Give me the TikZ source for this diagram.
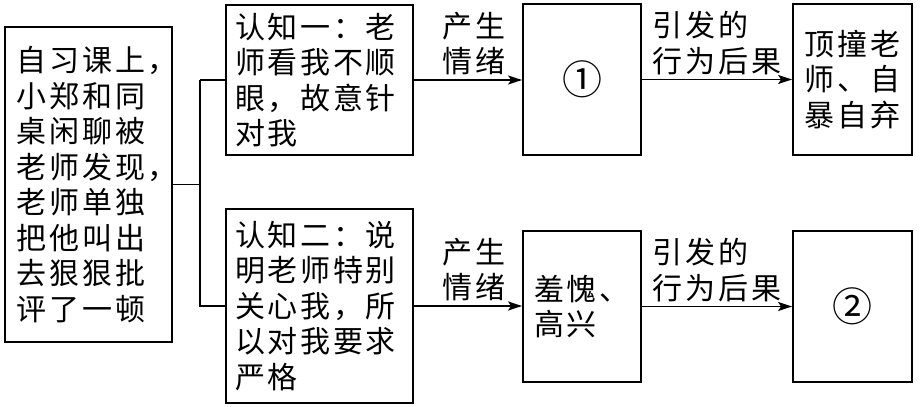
\documentclass[tikz,border=0pt]{standalone}
\usepackage{fontspec}
\setmainfont{Noto Sans CJK SC}[LetterSpace=9]
\usetikzlibrary{arrows.meta}

\begin{document}
\begin{tikzpicture}[x=0.5pt, y=-0.5pt]
  % Parameters
  \def\pxu{0.5pt}
  \def\lw{0.9pt}

  % Styles
  \tikzset{
    txt/.style={font=\fontsize{15pt}{17.75pt}\selectfont},
    box/.style={txt, draw, line width=\lw, align=left, inner ysep=0pt},
    arr/.style={line width=\lw, -{Stealth[length=7pt, width=4.5pt, inset=1.5pt]}},
    lbl/.style={txt, align=left, inner sep=2pt}
  }

  \useasboundingbox (0,0) rectangle (922,407);

  % Event
  \node[box, inner xsep=12*\pxu, text width=143*\pxu, minimum height=315*\pxu]
    (event) at (88.5,184.5)
    {自习课上，\\小郑和同\\桌闲聊被\\老师发现，\\老师单独\\把他叫出\\去狠狠批\\评了一顿};

  % Two cognitions
  \node[box, inner xsep=9*\pxu, text width=169*\pxu, minimum height=150*\pxu]
    (cogA) at (319.5,80)
    {认知一：老\\师看我不顺\\眼，故意针\\对我};
  \node[box, inner xsep=9*\pxu, text width=169*\pxu, minimum height=194*\pxu]
    (cogB) at (319.5,306)
    {认知二：说\\明老师特别\\关心我，所\\以对我要求\\严格};

  % Emotions
  \node[box, minimum width=118*\pxu, minimum height=151*\pxu, font=\fontsize{20pt}{22pt}\selectfont]
    (emoA) at (582,79.5) {①};
  \node[box, minimum width=118*\pxu, minimum height=151*\pxu]
    (emoB) at (582,306.5) {羞愧、\\高兴};

  % Behaviour
  \node[box, minimum width=119*\pxu, minimum height=151*\pxu]
    (actA) at (852.5,79.5) {顶撞老\\师、自\\暴自弃};
  \node[box, minimum width=119*\pxu, minimum height=151*\pxu, font=\fontsize{20pt}{22pt}\selectfont]
    (actB) at (852.5,306.5) {②};

  % Fork from the event
  \coordinate (fork) at (200,184.5);
  \draw[line width=\lw] (event.east) -- (fork);
  \draw[line width=\lw] (fork |- cogA.west) -- (cogA.west);
  \draw[line width=\lw] (fork |- cogA.west) -- (fork |- cogB.west) -- (cogB.west);

  % Arrows with labels
  \draw[arr] (cogA.east) -- node[lbl, above, xshift=3pt] {产生\\情绪} (cogA.east -| emoA.west);
  \draw[arr] (emoA.east) -- node[lbl, above] {引发的\\行为后果} (emoA.east -| actA.west);
  \draw[arr] (cogB.east) -- node[lbl, above, xshift=3pt] {产生\\情绪} (cogB.east -| emoB.west);
  \draw[arr] (emoB.east) -- node[lbl, above] {引发的\\行为后果} (emoB.east -| actB.west);

\end{tikzpicture}
\end{document}
